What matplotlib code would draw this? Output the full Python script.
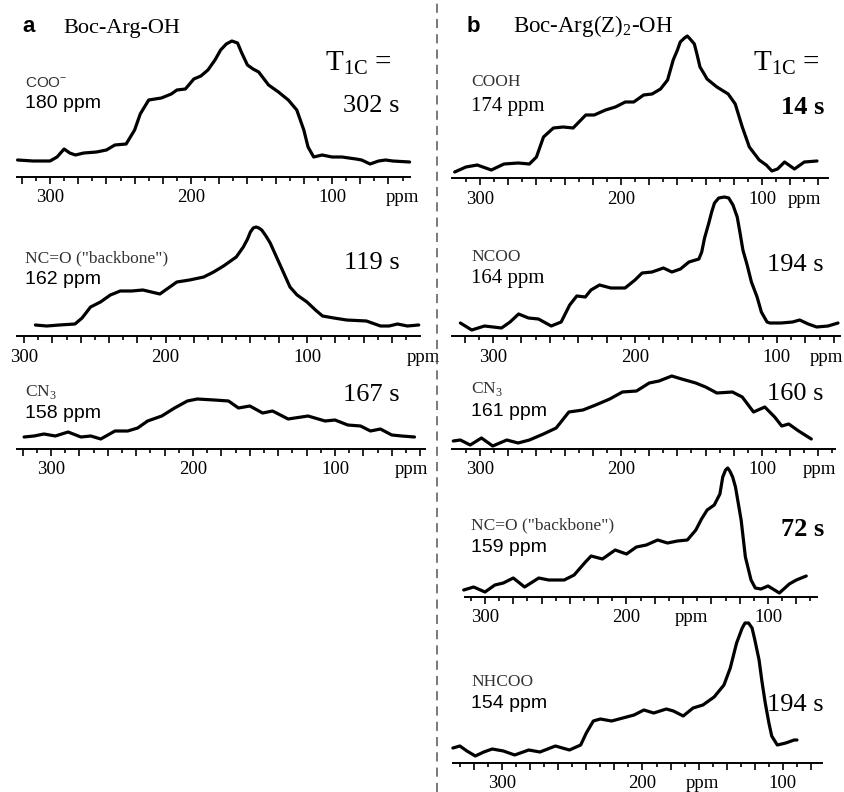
import matplotlib
matplotlib.use("Agg")
import matplotlib.pyplot as plt
from matplotlib.lines import Line2D

plt.rcParams["mathtext.fontset"] = "custom"
plt.rcParams["mathtext.rm"] = "Liberation Serif"
plt.rcParams["mathtext.sf"] = "Liberation Sans"
plt.rcParams["mathtext.bf"] = "Liberation Serif:bold"

SERIF = "Liberation Serif"
SANS = "Liberation Sans"

# --- spectra (chemical shift in ppm, intensity in arbitrary units) ---
# (a) Boc-Arg-OH
a_coo_ppm = [323, 312, 300, 295, 290, 286, 282, 276, 267, 260, 254, 246, 240, 236, 230,
             221, 214, 210, 204, 198, 193, 188, 183, 179, 175, 171, 167, 164, 160, 156,
             152, 145, 138, 131, 125, 120, 117, 113, 107, 100, 93, 83, 79, 73, 67,
             62, 57, 45]
a_coo_int = [17, 16, 16, 20, 28, 24, 22, 24, 25, 27, 32, 33, 47, 63, 77,
             79, 83, 87, 88, 98, 101, 107, 117, 127, 133, 136, 134, 124, 112, 108,
             105, 92, 85, 77, 67, 47, 30, 20, 22, 20, 20, 18, 17, 13, 16,
             17, 16, 15]

a_nco_ppm = [292, 284, 275, 264, 259, 253, 246, 239, 232, 224, 216, 210, 204, 199, 192,
             183, 173, 166, 159, 150, 145, 142, 140, 138, 136, 134, 132, 129, 126, 119,
             112, 107, 100, 94, 89, 81, 72, 58, 48, 42, 36, 29, 21]
a_nco_int = [11, 10, 11, 12, 18, 29, 34, 41, 45, 45, 46, 44, 42, 47, 54,
             56, 59, 64, 70, 79, 89, 97, 104, 108, 109, 108, 106, 100, 93, 71,
             49, 41, 34, 26, 20, 18, 16, 15, 10, 10, 12, 10, 11]

a_cn3_ppm = [319, 312, 305, 297, 288, 279, 272, 265, 255, 246, 239, 232, 222, 213, 204,
             197, 185, 175, 168, 160, 151, 144, 133, 119, 107, 100, 91, 82, 75, 68,
             60, 53, 44]
a_cn3_int = [12, 13, 15, 13, 17, 12, 13, 10, 18, 18, 21, 28, 33, 41, 48,
             50, 49, 48, 41, 43, 36, 38, 30, 33, 28, 29, 24, 23, 18, 20,
             14, 13, 12]

# (b) Boc-Arg(Z)2-OH
b_cooh_ppm = [318, 310, 302, 298, 292, 283, 273, 265, 260, 255, 248, 241, 234, 225, 219,
              211, 204, 197, 191, 184, 178, 172, 167, 165, 163, 160, 158, 155, 153, 151,
              148, 146, 144, 141, 139, 132, 124, 119, 114, 109, 102, 97, 93, 89, 84,
              77, 70, 61]
b_cooh_int = [6, 11, 13, 11, 8, 14, 15, 14, 21, 41, 50, 51, 50, 63, 63,
              68, 71, 76, 76, 83, 84, 89, 98, 108, 118, 128, 136, 140, 142, 139,
              134, 123, 111, 104, 99, 91, 84, 74, 51, 31, 18, 13, 7, 9, 16,
              9, 16, 17]

b_ncoo_ppm = [323, 315, 306, 294, 288, 282, 275, 268, 259, 252, 246, 241, 235, 231, 225,
              217, 207, 200, 195, 188, 180, 174, 168, 162, 155, 153, 151, 148, 146, 144,
              141, 137, 134, 131, 128, 126, 124, 121, 118, 114, 111, 107, 105, 97, 89,
              84, 78, 72, 64, 57]
b_ncoo_int = [13, 6, 10, 8, 14, 22, 18, 17, 10, 14, 31, 40, 39, 46, 51,
              48, 48, 56, 63, 64, 68, 64, 67, 74, 77, 84, 98, 113, 124, 133,
              138, 139, 138, 131, 119, 103, 86, 71, 54, 39, 24, 14, 13, 13, 14,
              16, 12, 9, 10, 13]

b_cn3_ppm = [319, 314, 307, 299, 291, 281, 273, 265, 255, 246, 237, 227, 218, 208, 199,
             189, 180, 173, 164, 157, 147, 140, 132, 121, 114, 106, 98, 91, 86, 81,
             74, 65]
b_cn3_int = [8, 9, 4, 11, 3, 9, 6, 9, 15, 21, 37, 39, 44, 50, 57,
             58, 66, 68, 73, 70, 66, 62, 56, 57, 52, 37, 42, 32, 23, 25,
             18, 10]

b_nco_ppm = [315, 308, 300, 293, 287, 280, 272, 262, 255, 244, 237, 229, 225, 217, 208,
             200, 193, 186, 178, 171, 164, 157, 151, 147, 143, 138, 134, 132, 130, 128.5,
             127, 125, 123, 119, 116, 112, 109, 105, 100, 92, 85, 80, 73]
b_nco_int = [7, 10, 5, 12, 14, 19, 10, 19, 17, 17, 22, 35, 41, 38, 47,
             43, 50, 52, 57, 54, 56, 57, 67, 78, 87, 92, 103, 120, 127, 129,
             126, 120, 110, 77, 40, 17, 9, 8, 11, 4, 13, 17, 21]

b_nhcoo_ppm = [335, 330, 325, 319, 313, 307, 299, 291, 281, 273, 262, 252, 244, 240, 235,
               230, 222, 214, 206, 199, 192, 183, 178, 171, 164, 157, 149, 142, 137.5, 133,
               129, 127, 124.5, 122, 120, 117, 115, 112.6, 110, 108, 104, 98, 92, 90]
b_nhcoo_int = [15, 17, 12, 7, 11, 14, 12, 8, 13, 11, 17, 13, 18, 30, 42,
               44, 42, 45, 48, 53, 50, 54, 52, 47, 55, 58, 66, 78, 95, 120,
               135, 140, 140, 135, 123, 103, 82, 60, 40, 27, 18, 20, 23, 23]

# labels
a_groups = ["COO$^{\\mathsf{-}}$", 'NC=O ("backbone")', "CN$_\\mathrm{3}$"]
a_shifts = ["180 ppm", "162 ppm", "158 ppm"]
a_t1 = ["302 s", "119 s", "167 s"]
b_groups = ["COOH", "NCOO", "CN$_\\mathrm{3}$", 'NC=O ("backbone")', "NHCOO"]
b_shifts = ["174 ppm", "164 ppm", "161 ppm", "159 ppm", "154 ppm"]
b_t1 = ["14 s", "194 s", "160 s", "72 s", "194 s"]
b_t1_bold = [True, False, False, True, False]

W, H = 845, 792
fig = plt.figure(figsize=(W / 100, H / 100), dpi=100)


def fx(x):
    return x / W


def fy(y):
    return 1 - y / H


def spectrum(ppm, inten, left, right, base_y, height, ppm_left, ppm_right, ppm_lab_x):
    ax = fig.add_axes([fx(left), fy(base_y), (right - left) / W, height / H])
    ax.patch.set_visible(False)
    ax.plot(ppm, inten, color="black", lw=2.3, solid_joinstyle="round",
            solid_capstyle="round", clip_on=False)
    ax.set_xlim(ppm_left, ppm_right)
    ax.set_ylim(0, height)
    for s in ["top", "left", "right"]:
        ax.spines[s].set_visible(False)
    ax.spines["bottom"].set_linewidth(1.4)
    ax.set_yticks([])
    lo, hi = min(ppm_left, ppm_right), max(ppm_left, ppm_right)
    major = [v for v in range(0, 400, 20) if lo <= v <= hi]
    minor = [v for v in range(10, 400, 20) if lo <= v <= hi]
    ax.set_xticks(major)
    ax.set_xticklabels([str(v) if v in (100, 200, 300) else "" for v in major],
                       fontfamily=SERIF, fontsize=13.5)
    ax.set_xticks(minor, minor=True)
    ax.tick_params(axis="x", which="major", direction="out", length=5, width=1.2, pad=4)
    ax.tick_params(axis="x", which="minor", direction="out", length=3, width=1.2)
    ax.text(ppm_lab_x, -21, "ppm", fontfamily=SERIF, fontsize=13.5,
            ha="center", va="center", transform=ax.transData)
    return ax


# panel a
spectrum(a_coo_ppm, a_coo_int, 17, 410, 177, 150, 323.4, 44.7, 50)
spectrum(a_nco_ppm, a_nco_int, 17, 420, 336, 130, 305.0, 20.1, 18)
spectrum(a_cn3_ppm, a_cn3_int, 17, 425, 449, 70, 324.0, 36.6, 46)

# panel b
spectrum(b_cooh_ppm, b_cooh_int, 452, 828, 178, 150, 319.9, 53.2, 70)
spectrum(b_ncoo_ppm, b_ncoo_int, 452, 840, 336, 150, 328.9, 55.6, 65)
spectrum(b_cn3_ppm, b_cn3_int, 452, 835, 449, 100, 319.9, 48.2, 59)
spectrum(b_nco_ppm, b_nco_int, 465, 817, 597, 140, 314.1, 65.4, 154)
spectrum(b_nhcoo_ppm, b_nhcoo_int, 453, 822, 763, 150, 334.9, 72.2, 157)

# separator between the panels
fig.add_artist(Line2D([fx(437), fx(437)], [0, 1], transform=fig.transFigure,
                      color="#555555", lw=1.1, linestyle=(0, (6, 4))))

# panel headers
fig.text(fx(22), fy(26), "a", fontfamily=SANS, fontweight="bold", fontsize=16, va="center")
fig.text(fx(63), fy(28), "Boc-Arg-OH", fontfamily=SERIF, fontsize=16, va="center")
fig.text(fx(467), fy(26), "b", fontfamily=SANS, fontweight="bold", fontsize=16, va="center")
fig.text(fx(513), fy(26), "Boc-Arg(Z)$_\\mathrm{2}$-OH", fontfamily=SERIF, fontsize=16.5,
         va="center")
fig.text(fx(325), fy(63), "T$_\\mathrm{1C}$ =", fontfamily=SERIF, fontsize=21, va="center")
fig.text(fx(753), fy(63), "T$_\\mathrm{1C}$ =", fontfamily=SERIF, fontsize=21, va="center")

# group labels, shifts and relaxation times
a_rows = [(84, 103, 106), (258, 279, 263), (392, 413, 395)]
for (gy, sy, ty), g, s, t in zip(a_rows, a_groups, a_shifts, a_t1):
    gfam, gsize = (SANS, 11) if "COO" in g else (SERIF, 12.5)
    fig.text(fx(25), fy(gy), g, fontfamily=gfam, fontsize=gsize, color="#333333",
             va="center")
    fig.text(fx(25), fy(sy), s, fontfamily=SANS, fontsize=14, va="center")
    fig.text(fx(400), fy(ty), t, fontfamily=SERIF, fontsize=19, ha="right", va="center")

b_rows = [(82, 106, 108), (257, 279, 265), (389, 412, 394), (525, 547, 530), (682, 704, 705)]
for i, ((gy, sy, ty), g, s, t) in enumerate(zip(b_rows, b_groups, b_shifts, b_t1)):
    fig.text(fx(471), fy(gy), g, fontfamily=SERIF, fontsize=12.5, color="#333333",
             va="center")
    sfam, ssize = (SERIF, 15) if i < 2 else (SANS, 14)
    fig.text(fx(471), fy(sy), s, fontfamily=sfam, fontsize=ssize, va="center")
    fig.text(fx(824), fy(ty), t, fontfamily=SERIF, fontsize=19, ha="right", va="center",
             fontweight="bold" if b_t1_bold[i] else "normal")

fig.savefig("out.png", dpi=100)
